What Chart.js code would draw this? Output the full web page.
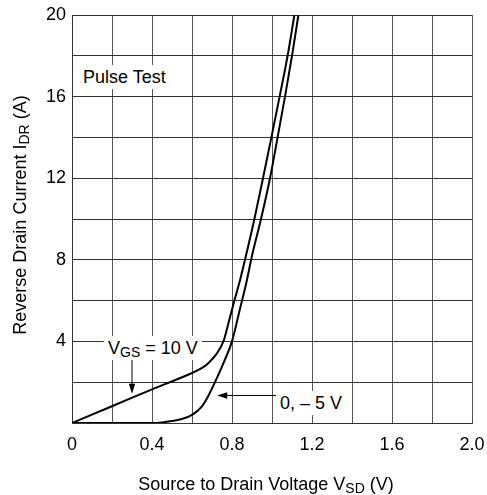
<!DOCTYPE html>
<html>
<head>
<meta charset="utf-8">
<script src="https://cdn.jsdelivr.net/npm/chart.js@4/dist/chart.umd.min.js"></script>
<style>
  html, body { margin: 0; padding: 0; background: #fff; }
  #wrap { position: relative; width: 487px; height: 495px; font-family: "Liberation Sans", Arial, sans-serif; color: #000; }
  canvas { position: absolute; left: 0; top: 0; }
  .lbl { position: absolute; font-size: 18px; line-height: 18px; white-space: nowrap; }
  .box { background: #fff; padding: 3px 4px; }
  .sub { font-size: 14px; vertical-align: -3px; line-height: 0; }
</style>
</head>
<body>
<div id="wrap">
  <canvas id="c" width="487" height="495"></canvas>
  <div class="lbl box" style="left:79px; top:65px;">Pulse Test</div>
  <div class="lbl box" style="left:104px; top:336px;">V<span class="sub">GS</span> = 10 V</div>
  <div class="lbl box" style="left:276px; top:391px;">0, – 5 V</div>
  <div class="lbl" style="left:66px; width:400px; text-align:center; top:475px;">Source to Drain Voltage V<span class="sub">SD</span> (V)</div>
  <div class="lbl" style="left:-130px; width:300px; height:18px; text-align:center; top:206px; transform:rotate(-90deg); transform-origin:150px 9px;">Reverse Drain Current I<span class="sub">DR</span> (A)</div>
</div>
<script>
// Source-to-drain voltage (V) and reverse drain current (A)
const vgs10Volts   = [0, 0.2, 0.4, 0.6, 0.65, 0.68, 0.72, 0.757, 0.785, 0.812, 0.84, 0.865, 0.912, 0.955, 0.997, 1.038, 1.078, 1.112];
const vgs10Current = [0, 0.82, 1.65, 2.45, 2.7, 2.92, 3.35, 4.0, 5.0, 6.0, 7.0, 8.0, 10.0, 12.0, 14.0, 16.0, 18.0, 20.0];

const vgs0Volts   = [0, 0.4, 0.45, 0.5, 0.55, 0.6, 0.65, 0.68, 0.715, 0.76, 0.8, 0.84, 0.87, 0.9, 0.945, 0.99, 1.028, 1.065, 1.1, 1.132];
const vgs0Current = [0, 0, 0.03, 0.1, 0.2, 0.4, 0.82, 1.3, 2.0, 3.0, 4.0, 5.6, 6.8, 8.2, 10.0, 12.0, 14.0, 16.0, 18.0, 20.0];

const xTickLabels = ["0", "0.4", "0.8", "1.2", "1.6", "2.0"];
const yTickLabels = ["4", "8", "12", "16", "20"];

// Annotation arrows in data coordinates
const arrowVgs10 = { x1: 0.3, y1: 3.13, x2: 0.3, y2: 1.43 };
const arrowVgs0  = { x1: 1.02, y1: 1.35, x2: 0.726, y2: 1.35 };

function toPoints(xs, ys) { return xs.map((x, i) => ({ x: x, y: ys[i] })); }

const arrowPlugin = {
  id: 'arrows',
  afterDatasetsDraw(chart) {
    const ctx = chart.ctx, xs = chart.scales.x, ys = chart.scales.y;
    [arrowVgs10, arrowVgs0].forEach(a => {
      const x1 = xs.getPixelForValue(a.x1), y1 = ys.getPixelForValue(a.y1);
      const x2 = xs.getPixelForValue(a.x2), y2 = ys.getPixelForValue(a.y2);
      const ang = Math.atan2(y2 - y1, x2 - x1);
      const len = 10, hw = 3.2;
      ctx.save();
      ctx.strokeStyle = '#000'; ctx.fillStyle = '#000'; ctx.lineWidth = 1;
      ctx.beginPath();
      ctx.moveTo(x1, y1);
      ctx.lineTo(x2 - Math.cos(ang) * len * 0.8, y2 - Math.sin(ang) * len * 0.8);
      ctx.stroke();
      ctx.beginPath();
      ctx.moveTo(x2, y2);
      ctx.lineTo(x2 - Math.cos(ang) * len - Math.sin(ang) * hw, y2 - Math.sin(ang) * len + Math.cos(ang) * hw);
      ctx.lineTo(x2 - Math.cos(ang) * len + Math.sin(ang) * hw, y2 - Math.sin(ang) * len - Math.cos(ang) * hw);
      ctx.closePath();
      ctx.fill();
      ctx.restore();
    });
  }
};

new Chart(document.getElementById('c'), {
  type: 'line',
  data: {
    datasets: [
      { label: 'VGS = 10 V', data: toPoints(vgs10Volts, vgs10Current), borderColor: '#000', borderWidth: 2, pointRadius: 0, cubicInterpolationMode: 'monotone', fill: false },
      { label: 'VGS = 0, -5 V', data: toPoints(vgs0Volts, vgs0Current), borderColor: '#000', borderWidth: 2, pointRadius: 0, cubicInterpolationMode: 'monotone', fill: false }
    ]
  },
  options: {
    responsive: false,
    animation: false,
    events: [],
    layout: { padding: { left: 0, right: 15, top: 15, bottom: 0 } },
    plugins: { legend: { display: false }, tooltip: { enabled: false } },
    scales: {
      x: {
        type: 'linear', min: 0, max: 2,
        afterFit(s) { s.height = 72; s.paddingLeft = 0; s.paddingRight = 0; },
        grid: { color: '#555', lineWidth: 1, drawTicks: false },
        border: { color: '#333', width: 1 },
        ticks: {
          stepSize: 0.2, padding: 11, color: '#000', maxRotation: 0, autoSkip: false,
          font: { family: 'Liberation Sans, Arial', size: 18 },
          callback(v) { const k = Math.round(v * 10); return k % 4 === 0 ? xTickLabels[k / 4] : ''; }
        }
      },
      y: {
        type: 'linear', min: 0, max: 20,
        afterFit(s) { s.width = 72; s.paddingTop = 0; s.paddingBottom = 0; },
        grid: { color: '#333', lineWidth: 1, drawTicks: false },
        border: { color: '#333', width: 1 },
        ticks: {
          stepSize: 2, padding: 6, color: '#000', autoSkip: false,
          font: { family: 'Liberation Sans, Arial', size: 18 },
          callback(v) { const k = Math.round(v); return (k % 4 === 0 && k > 0) ? yTickLabels[k / 4 - 1] : ''; }
        }
      }
    }
  },
  plugins: [arrowPlugin]
});
</script>
</body>
</html>
